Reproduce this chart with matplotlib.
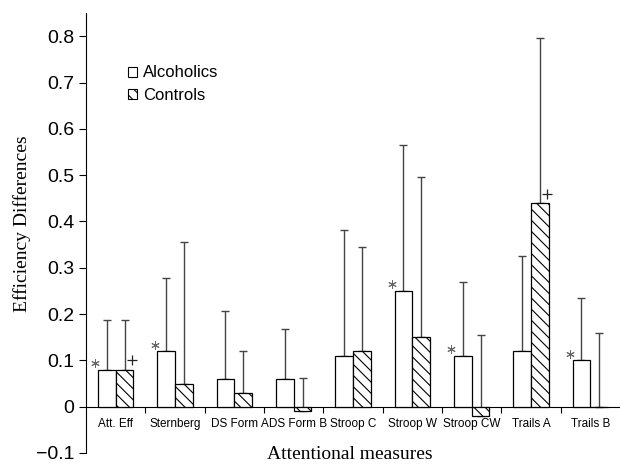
import numpy as np
import matplotlib.pyplot as plt
from matplotlib.patches import Patch

# Data
measures = ['Att. Eff', 'Sternberg', 'DS Form', 'ADS Form B', 'Stroop C',
            'Stroop W', 'Stroop CW', 'Trails A', 'Trails B']
alcoholics = [0.08, 0.12, 0.06, 0.06, 0.11, 0.25, 0.11, 0.12, 0.10]
alcoholics_top = [0.187, 0.277, 0.207, 0.167, 0.381, 0.566, 0.270, 0.325, 0.235]
controls = [0.08, 0.05, 0.03, -0.01, 0.12, 0.15, -0.02, 0.44, 0.0]
controls_top = [0.187, 0.356, 0.120, 0.061, 0.345, 0.497, 0.155, 0.796, 0.160]
star_marks = [True, True, False, False, False, True, True, False, True]
plus_marks = [True, False, False, False, False, False, False, True, False]

plt.rcParams['font.family'] = ['Liberation Sans', 'DejaVu Sans']
plt.rcParams['hatch.linewidth'] = 0.8

fig = plt.figure(figsize=(6.2, 4.67), dpi=100)
ax = fig.add_axes([0.1387, 0.030, 0.8613, 0.942])

x = np.arange(len(measures))
w = 0.3
alc = np.array(alcoholics)
con = np.array(controls)

ax.bar(x - w / 2, alc, w, facecolor='white', edgecolor='black', linewidth=0.9, zorder=3)
ax.bar(x + w / 2, con, w, facecolor='white', edgecolor='black', linewidth=0.9,
       hatch='\\\\\\', zorder=3)

err_kw = dict(fmt='none', ecolor='#444444', elinewidth=1.0, capsize=3, capthick=1.0, zorder=2)
ax.errorbar(x - w / 2, alc, yerr=[np.zeros_like(alc), np.array(alcoholics_top) - alc], **err_kw)
ax.errorbar(x + w / 2, con, yerr=[np.zeros_like(con), np.array(controls_top) - con], **err_kw)

# significance marks
star = np.array(star_marks)
plus = np.array(plus_marks)
ax.plot(x[star] - w - 0.04, alc[star] + 0.014, linestyle='none', marker=(6, 2, 0),
        markersize=6, markeredgewidth=0.7, color='#666666', zorder=4)
ax.plot(x[plus] + w - 0.03, con[plus] + 0.02, linestyle='none', marker='+',
        markersize=7, markeredgewidth=0.9, color='#222222', zorder=4)

ax.set_xlim(-0.5, len(measures) - 0.5)
ax.set_ylim(-0.1, 0.85)
ax.spines['top'].set_visible(False)
ax.spines['right'].set_visible(False)
ax.spines['bottom'].set_position(('data', 0))
ax.spines['left'].set_bounds(-0.1, 0.85)

ax.set_yticks(np.arange(-0.1, 0.81, 0.1))
ax.set_yticklabels(['\u22120.1', '0', '0.1', '0.2', '0.3', '0.4', '0.5', '0.6', '0.7', '0.8'])
ax.tick_params(axis='y', labelsize=14, length=5, direction='out')

ax.set_xticks(np.arange(0.5, len(measures) - 0.5, 1.0))
ax.set_xticklabels([])
ax.tick_params(axis='x', which='major', length=4, direction='out')
ax.set_xticks(x, minor=True)
ax.set_xticklabels(measures, minor=True)
ax.tick_params(axis='x', which='minor', length=0, labelsize=8.5, pad=8)

fig.text(0.565, 0.026, 'Attentional measures', ha='center', va='center',
         fontsize=14, family='Liberation Serif')
fig.text(0.035, 0.52, 'Efficiency Differences', ha='center', va='center',
         rotation=90, fontsize=14, family='Liberation Serif')

handles = [Patch(facecolor='white', edgecolor='black', linewidth=0.8),
           Patch(facecolor='white', edgecolor='black', linewidth=0.8, hatch='\\\\\\')]
ax.legend(handles, ['Alcoholics', 'Controls'], loc='upper left',
          bbox_to_anchor=(0.05, 0.915), frameon=False, fontsize=12,
          handlelength=0.55, handleheight=0.55, handletextpad=0.35, labelspacing=0.45)

fig.savefig('out.png', dpi=100)
